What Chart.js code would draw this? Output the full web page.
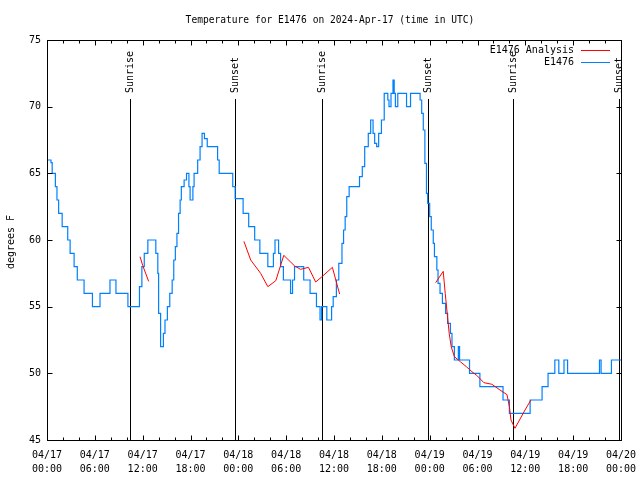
<!DOCTYPE html>
<html>
<head>
<meta charset="utf-8">
<script src="https://cdn.jsdelivr.net/npm/chart.js@4"></script>
<style>body{margin:0;background:#fff}</style>
</head>
<body>
<canvas id="myChart" width="640" height="480"></canvas>
<script>
// hours since 2024-04-17 00:00 UTC
const blueHours = [0.0, 0.5, 0.65, 1.05, 1.25, 1.46, 1.9, 2.6, 2.9, 3.4, 3.8, 4.65, 5.7, 6.65, 7.9, 8.65, 10.15,
  11.6, 11.9, 12.2, 12.65, 13.65, 13.9, 14.0, 14.25, 14.6, 14.8, 15.1, 15.4, 15.7, 15.9, 16.1, 16.3, 16.5, 16.7, 16.85,
  17.2, 17.5, 17.8, 17.95, 18.3, 18.45, 18.9, 19.2, 19.45, 19.75, 20.1, 21.4, 21.6, 23.3, 23.6,
  24.6, 25.3, 26.05, 26.7, 27.7, 28.4, 28.6, 29.05, 29.3, 29.65, 30.55, 30.8, 31.05, 32.2, 33.0, 33.8, 34.25, 34.45,
  35.1, 35.7, 35.9, 36.3, 36.6, 37.0, 37.2, 37.4, 37.6, 37.9, 39.2, 39.55, 39.85, 40.3, 40.6, 40.9, 41.1, 41.35,
  41.6, 41.95, 42.3, 42.75, 42.9, 43.15, 43.4, 43.55, 43.7, 44.0, 45.1, 45.6, 46.8, 47.0, 47.2, 47.4, 47.6, 47.75,
  48.0, 48.2, 48.45, 48.6, 48.9, 49.05, 49.3, 49.6, 50.0, 50.25, 50.6, 50.8, 51.1, 51.6, 51.75, 53.0, 54.3, 57.2,
  58.0, 60.6, 62.1, 62.85, 63.7, 64.2, 64.85, 65.3, 69.3, 69.5, 70.8, 72.0]
const blueTemps = [66, 65.8, 65, 64, 63, 62, 61, 60, 59, 58, 57, 56, 55, 56, 57, 56, 55,
  56.5, 58, 59, 60, 59, 57.5, 54.5, 52, 53, 54, 55, 56, 57, 58.5, 59.5, 60.5, 62, 63, 64,
  64.5, 65, 64, 63, 64, 65, 66, 67, 68, 67.6, 67, 66, 65, 64, 63.1,
  62, 61, 60, 59, 58, 59, 60, 59, 58, 57, 56, 57, 58, 57, 56, 55, 54, 55,
  54, 55, 55.75, 57, 58.25, 59.75, 60.75, 61.75, 63.25, 64, 64.75, 65.5, 67, 68, 69, 68, 67.25, 67,
  68, 69, 71, 70.5, 70, 71, 72, 71, 70, 71, 70, 71, 70.5, 69.5, 68.25, 65.75, 63.5, 62.75,
  61.75, 60.75, 59.75, 58.75, 57.75, 56.75, 56, 55.25, 54.5, 53.75, 53, 52, 51, 52, 51, 50, 49, 48,
  47, 48, 49, 50, 51, 50, 51, 50, 51, 50, 51, 51]

const redHours = [11.67, 12.0, 12.75, 18,
  24.7, 25.55, 26.3, 26.8, 27.7, 28.7, 29.7, 31.07, 31.8, 32.8, 33.7, 34.4, 35.8, 36.7, 42,
  48.75, 49.7, 49.95, 50.45, 50.7, 51.1, 51.85, 52.6, 53.3, 53.9, 54.8, 55.8, 56.7, 57.7, 58.0, 58.2, 58.7, 59.96, 60.7]
const redTemps = [58.75, 58.1, 56.9, null,
  59.9, 58.5, 57.9, 57.5, 56.5, 56.95, 58.85, 58.05, 57.8, 57.95, 56.85, 57.2, 57.95, 55.95, null,
  56.8, 57.65, 56, 53, 52, 51.25, 50.87, 50.5, 50.12, 49.85, 49.3, 49.18, 48.8, 48.4, 47.5, 46.5, 45.88, 47.25, 48]

const sunHours = [10.42, 23.6, 34.5, 47.8, 58.47, 71.77]
const sunNames = ['Sunrise', 'Sunset', 'Sunrise', 'Sunset', 'Sunrise', 'Sunset']

const tickDays = ['04/17', '04/17', '04/17', '04/17', '04/18', '04/18', '04/18', '04/18', '04/19', '04/19', '04/19', '04/19', '04/20']
const tickTimes = ['00:00', '06:00', '12:00', '18:00', '00:00', '06:00', '12:00', '18:00', '00:00', '06:00', '12:00', '18:00', '00:00']

const blueColor = 'rgb(0, 128, 255)'
const redColor = 'rgb(255, 0, 0)'
const monoFont = '"DejaVu Sans Mono", monospace'

function punkte(xs, ys) {
  return xs.map((h, i) => ({ x: h, y: ys[i] }))
}

// sun lines, frame, ticks, title, legend
const extras = {
  id: 'extras',
  beforeDatasetsDraw(chart) {
    const { ctx, chartArea: a, scales: { x } } = chart
    ctx.save()
    ctx.strokeStyle = '#000'
    ctx.fillStyle = '#000'
    ctx.lineWidth = 1
    ctx.font = '10px ' + monoFont
    sunHours.forEach((h, i) => {
      const px = Math.round(x.getPixelForValue(h)) + 0.5
      ctx.beginPath()
      ctx.moveTo(px, 99)
      ctx.lineTo(px, a.bottom)
      ctx.stroke()
      ctx.save()
      ctx.translate(px, 93)
      ctx.rotate(-Math.PI / 2)
      ctx.textAlign = 'left'
      ctx.textBaseline = 'middle'
      ctx.fillText(sunNames[i], 0, 0)
      ctx.restore()
    })
    ctx.restore()
  },
  afterDraw(chart) {
    const { ctx, chartArea: a, scales: { x, y } } = chart
    ctx.save()
    ctx.strokeStyle = '#000'
    ctx.fillStyle = '#000'
    ctx.lineWidth = 1
    const L = Math.round(a.left) + 0.5, R = Math.round(a.right) + 0.5
    const T = Math.round(a.top) + 0.5, B = Math.round(a.bottom) + 0.5
    ctx.strokeRect(L, T, R - L, B - T)
    ctx.beginPath()
    for (let h = 0; h <= 72; h += 2) {
      const px = Math.round(x.getPixelForValue(h)) + 0.5
      const len = h % 6 === 0 ? 5 : 3
      ctx.moveTo(px, B); ctx.lineTo(px, B - len)
      ctx.moveTo(px, T); ctx.lineTo(px, T + len)
    }
    for (let v = 45; v <= 75; v += 5) {
      const py = Math.round(y.getPixelForValue(v)) + 0.5
      ctx.moveTo(L, py); ctx.lineTo(L + 5, py)
      ctx.moveTo(R, py); ctx.lineTo(R - 5, py)
    }
    ctx.stroke()

    ctx.font = '9.6px ' + monoFont
    ctx.textAlign = 'center'
    ctx.textBaseline = 'middle'
    ctx.fillText('Temperature for E1476 on 2024-Apr-17 (time in UTC)', 330, 20)

    ctx.font = '10px ' + monoFont
    ctx.save()
    ctx.translate(11, 242)
    ctx.rotate(-Math.PI / 2)
    ctx.fillText('degrees F', 0, 0)
    ctx.restore()

    // legend
    ctx.textAlign = 'right'
    ctx.fillText('E1476 Analysis', 574, 50)
    ctx.fillText('E1476', 574, 62)
    ctx.lineWidth = 1
    ctx.strokeStyle = redColor
    ctx.beginPath(); ctx.moveTo(581, 50.5); ctx.lineTo(610, 50.5); ctx.stroke()
    ctx.strokeStyle = blueColor
    ctx.beginPath(); ctx.moveTo(581, 62.5); ctx.lineTo(610, 62.5); ctx.stroke()
    ctx.restore()
  }
}

const ctx = document.getElementById('myChart')

const data = {
  datasets: [{
    label: 'E1476 Analysis',
    data: punkte(redHours, redTemps),
    borderColor: redColor,
    borderWidth: 1,
    pointRadius: 0,
    spanGaps: false
  }, {
    label: 'E1476',
    data: punkte(blueHours, blueTemps),
    borderColor: blueColor,
    borderWidth: 1.2,
    pointRadius: 0,
    stepped: true
  }]
}

const config = {
  type: 'line',
  data: data,
  options: {
    responsive: false,
    animation: false,
    devicePixelRatio: 1,
    layout: { padding: { top: 40, right: 19, left: 0, bottom: 0 } },
    plugins: {
      legend: { display: false },
      title: { display: false },
      tooltip: { enabled: false }
    },
    scales: {
      x: {
        type: 'linear',
        min: 0,
        max: 72,
        afterFit: s => { s.height = 40; s.paddingLeft = 0; s.paddingRight = 0 },
        grid: { display: false, drawTicks: false },
        border: { display: false },
        ticks: {
          stepSize: 6,
          autoSkip: false,
          maxRotation: 0,
          padding: 8,
          color: '#000',
          font: { family: monoFont, size: 10, lineHeight: 1.4 },
          callback: (v, i) => [tickDays[i], tickTimes[i]]
        }
      },
      y: {
        min: 45,
        max: 75,
        afterFit: s => { s.width = 47; s.paddingTop = 0; s.paddingBottom = 0 },
        grid: { display: false, drawTicks: false },
        border: { display: false },
        ticks: {
          stepSize: 5,
          padding: 6,
          color: '#000',
          font: { family: monoFont, size: 10 }
        }
      }
    }
  },
  plugins: [extras]
}

const myChart = new Chart(ctx, config)
</script>
</body>
</html>
